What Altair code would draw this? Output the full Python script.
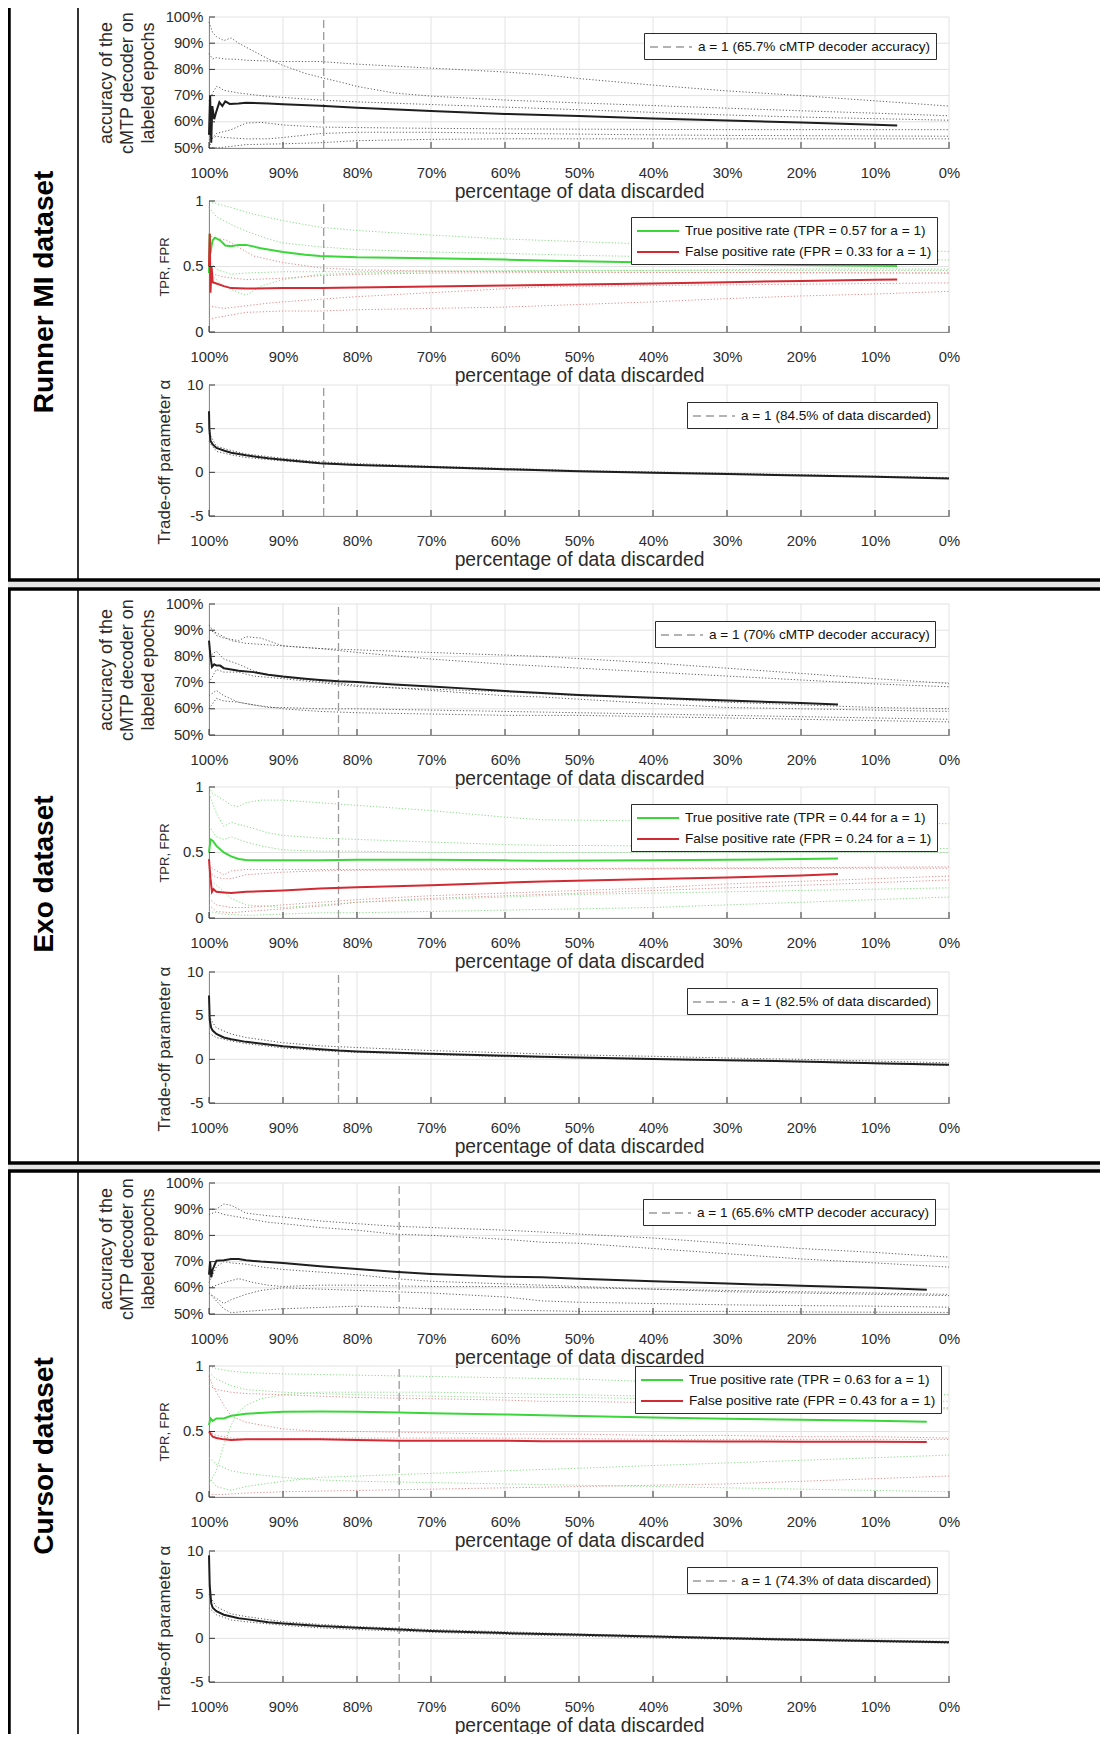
import altair as alt
import pandas as pd

# ---------------- values ----------------
X_TICKS = [0, 10, 20, 30, 40, 50, 60, 70, 80, 90, 100]
ACC_TICKS = [50, 60, 70, 80, 90, 100]
RATE_TICKS = [0, 0.5, 1]
ALPHA_TICKS = [-5, 0, 5, 10]

DATASETS = ["Runner MI dataset", "Exo dataset", "Cursor dataset"]
A1_DISCARD = [84.5, 82.5, 74.3]
A1_ACC = ["65.7%", "70%", "65.6%"]
A1_TPR = ["0.57", "0.44", "0.63"]
A1_FPR = ["0.33", "0.24", "0.43"]

# ---- Runner MI ----
R_ACC = [[100, 55], [99.85, 70], [99.7, 52], [99.55, 66], [99.3, 61], [99, 64], [98.6, 67.5], [98.2, 66],
         [97.8, 67.8], [97.2, 66.8], [96, 67], [95, 67.3], [92, 67], [90, 66.7], [85, 66.1], [80, 65.4],
         [70, 64.1], [60, 63], [50, 62.2], [40, 61.3], [30, 60.5], [20, 59.7], [10, 58.9], [7, 58.6]]
R_A1 = [[100, 98], [99.5, 94], [99, 92.5], [98, 91], [97, 92], [96, 90], [95, 88.5], [92, 84], [90, 81.5],
        [87, 78.5], [85, 77], [82, 75], [80, 73.5], [75, 71], [70, 69.8], [60, 68.3], [50, 67.2], [40, 66.2],
        [30, 65.2], [20, 64.2], [10, 63.3], [0, 62.3]]
R_A2 = [[100, 86], [99.5, 84], [99, 84.5], [98, 84], [96, 83.8], [95, 83.5], [90, 83], [85, 83], [80, 82],
        [70, 80.5], [60, 79], [55, 78], [50, 76.5], [40, 74], [30, 71.8], [20, 70], [10, 68], [0, 66]]
R_A3 = [[100, 68], [99.5, 71], [99, 73.5], [98.5, 73], [98, 72], [96, 71], [93, 70], [90, 69.3], [85, 68.3],
        [80, 67.6], [70, 66.6], [60, 65.6], [50, 64.6], [40, 63.6], [30, 62.6], [20, 61.8], [10, 61.2], [0, 60.6]]
R_A4 = [[100, 50], [99.5, 54], [99, 55.5], [97, 57], [95, 59.5], [93, 59.8], [90, 58.8], [85, 58], [80, 57.8],
        [70, 57.5], [60, 57.3], [50, 57.2], [40, 57.1], [30, 57], [20, 57], [10, 57], [0, 57]]
R_A5 = [[100, 53], [99, 54.5], [98, 54], [95, 53.5], [92, 53.5], [90, 54], [85, 55.5], [80, 56], [70, 56],
        [60, 55.6], [50, 55.3], [40, 55], [30, 54.8], [20, 54.7], [10, 54.6], [0, 54.5]]
R_A6 = [[100, 50], [98, 50.3], [95, 51.3], [90, 51.6], [85, 52], [80, 52.8], [70, 53.3], [60, 53.5],
        [50, 53.5], [40, 53.5], [30, 53.5], [20, 53.5], [10, 53.5], [0, 53.5]]
R_TPR = [[100, 0.45], [99.9, 0.75], [99.8, 0.6], [99.65, 0.66], [99.5, 0.7], [99.2, 0.72], [98.5, 0.7],
         [97.8, 0.66], [97, 0.655], [96, 0.665], [95, 0.665], [93, 0.64], [90, 0.61], [87, 0.59], [85, 0.58],
         [80, 0.57], [70, 0.563], [60, 0.553], [55, 0.545], [50, 0.54], [40, 0.53], [30, 0.52], [20, 0.512],
         [10, 0.505], [7, 0.503]]
R_FPR = [[100, 0.5], [99.9, 0.75], [99.8, 0.3], [99.65, 0.5], [99.5, 0.38], [99, 0.37], [98, 0.35], [97, 0.335],
         [95, 0.332], [90, 0.335], [85, 0.336], [80, 0.34], [70, 0.347], [60, 0.355], [55, 0.358], [50, 0.362],
         [40, 0.37], [30, 0.38], [20, 0.39], [10, 0.398], [7, 0.4]]
R_G1 = [[100, 1.0], [99, 0.98], [97, 0.95], [94, 0.9], [90, 0.85], [85, 0.8], [80, 0.775], [70, 0.74],
        [60, 0.71], [50, 0.69], [40, 0.67], [30, 0.65], [20, 0.635], [10, 0.625], [0, 0.615]]
R_G2 = [[100, 0.95], [99, 0.88], [97, 0.82], [95, 0.77], [92, 0.71], [90, 0.68], [85, 0.65], [80, 0.63],
        [70, 0.61], [60, 0.6], [50, 0.585], [40, 0.575], [30, 0.565], [20, 0.56], [10, 0.555], [0, 0.55]]
R_G3 = [[100, 0.45], [99, 0.4], [98, 0.35], [96, 0.3], [95, 0.28], [93, 0.35], [90, 0.4], [85, 0.44],
        [80, 0.45], [70, 0.46], [60, 0.465], [50, 0.47], [40, 0.47], [30, 0.475], [20, 0.48], [10, 0.48], [0, 0.48]]
R_G4 = [[100, 0.55], [99, 0.48], [97, 0.44], [95, 0.45], [90, 0.46], [80, 0.46], [70, 0.465], [50, 0.47],
        [30, 0.47], [0, 0.47]]
R_R1 = [[100, 0.75], [99.5, 0.72], [97.6, 0.7], [94, 0.58], [90, 0.53], [85, 0.49], [80, 0.475], [70, 0.465],
        [55, 0.46], [40, 0.455], [20, 0.452], [0, 0.45]]
R_R2 = [[100, 0.45], [98, 0.42], [95, 0.4], [90, 0.41], [85, 0.43], [80, 0.44], [70, 0.45], [50, 0.455],
        [30, 0.455], [0, 0.45]]
R_R3 = [[100, 0.2], [98, 0.18], [95, 0.2], [92, 0.22], [90, 0.23], [85, 0.25], [80, 0.27], [70, 0.3],
        [60, 0.33], [55, 0.345], [40, 0.355], [20, 0.365], [0, 0.375]]
R_R4 = [[100, 0.1], [98, 0.12], [95, 0.15], [90, 0.16], [85, 0.16], [80, 0.17], [70, 0.18], [60, 0.19],
        [55, 0.2], [40, 0.23], [30, 0.255], [20, 0.275], [10, 0.29], [0, 0.31]]
R_ALPHA = [[100, 7], [99.95, 5], [99.8, 3.6], [99.5, 3.2], [99, 2.8], [98, 2.5], [97, 2.25], [95, 1.95],
           [92, 1.6], [90, 1.45], [85, 1.05], [80, 0.85], [70, 0.6], [60, 0.35], [50, 0.12], [40, -0.05],
           [30, -0.2], [20, -0.35], [10, -0.5], [0, -0.7]]
R_AD1 = [[100, 3.5], [99, 2.4], [97, 2.0], [95, 1.7], [90, 1.3], [85, 1.0], [80, 0.8], [70, 0.55], [60, 0.3],
         [50, 0.1], [30, -0.2], [0, -0.65]]
R_AD2 = [[100, 4.5], [99, 3.0], [97, 2.5], [95, 2.1], [90, 1.6], [85, 1.2], [80, 1.0], [70, 0.7], [60, 0.45],
         [50, 0.2], [30, -0.1], [0, -0.6]]

# ---- Exo ----
E_ACC = [[100, 86], [99.8, 80], [99.6, 76], [99.3, 77], [99, 76.5], [98.5, 76.5], [98, 75.5], [97, 75],
         [96, 74.5], [94, 74], [92, 73], [90, 72.3], [87, 71.5], [85, 71], [82.5, 70.5], [80, 70.2], [75, 69.3],
         [70, 68.5], [65, 67.7], [60, 66.8], [55, 66], [50, 65.3], [40, 64.2], [30, 63.2], [20, 62.2], [15, 61.6]]
E_A1 = [[100, 92], [99, 88], [98, 87], [96, 86], [95, 87.5], [93, 87], [90, 84], [85, 83], [80, 82.5],
        [70, 81.5], [60, 80.5], [55, 80], [40, 77.5], [30, 75.5], [20, 73.5], [10, 71.5], [0, 69.7]]
E_A2 = [[100, 90], [99, 89], [97, 86], [95, 85], [90, 84], [85, 83], [80, 81.5], [70, 79], [60, 77],
        [55, 76.3], [40, 74], [30, 72.5], [20, 71], [10, 69.5], [0, 68.4]]
E_A3 = [[100, 80], [99, 82], [98, 79], [96, 77], [94, 74.5], [92, 73], [90, 72], [85, 70.5], [80, 69],
        [70, 67], [60, 65], [55, 64.5], [40, 62], [30, 60.5], [20, 60], [10, 59.5], [0, 59]]
E_A4 = [[100, 65], [99, 67], [98, 65], [96, 62.5], [94, 61.5], [92, 60.5], [90, 60.5], [85, 60], [80, 60],
        [70, 59.5], [60, 59], [50, 58.5], [40, 58], [30, 57.5], [20, 57], [10, 56.5], [0, 56]]
E_A5 = [[100, 60], [99, 64], [98, 63], [96, 62.5], [94, 61.5], [90, 60], [85, 59], [80, 58.5], [70, 58],
        [60, 57.5], [50, 57.5], [40, 57], [30, 56.5], [20, 56], [10, 55.5], [0, 55]]
E_A6 = [[100, 70], [99, 75], [98, 74], [96, 74], [94, 72.5], [92, 72], [90, 71.5], [85, 70], [80, 68.5],
        [70, 67.5], [60, 66.5], [50, 65], [40, 64], [30, 62.5], [20, 61.5], [10, 60.5], [0, 60]]
E_TPR = [[100, 0.5], [99.8, 0.6], [99.5, 0.59], [99, 0.55], [98, 0.5], [97, 0.47], [96, 0.45], [95, 0.442],
         [90, 0.44], [85, 0.44], [80, 0.445], [70, 0.445], [60, 0.44], [55, 0.437], [40, 0.44], [30, 0.445],
         [20, 0.45], [15, 0.455]]
E_FPR = [[100, 0.45], [99.8, 0.3], [99.6, 0.2], [99.4, 0.22], [99, 0.2], [98, 0.195], [97, 0.19], [95, 0.2],
         [90, 0.21], [85, 0.225], [80, 0.235], [70, 0.25], [60, 0.27], [55, 0.278], [40, 0.298], [30, 0.31],
         [20, 0.325], [15, 0.335]]
E_G1 = [[100, 1.0], [99.5, 0.95], [98, 0.9], [97, 0.86], [96, 0.85], [95, 0.88], [93, 0.9], [90, 0.9],
        [85, 0.88], [80, 0.86], [70, 0.82], [60, 0.77], [55, 0.75], [40, 0.74], [20, 0.73], [0, 0.72]]
E_G2 = [[100, 0.95], [99, 0.8], [98, 0.7], [97, 0.73], [95, 0.7], [92, 0.65], [90, 0.63], [85, 0.61],
        [80, 0.6], [70, 0.58], [60, 0.56], [55, 0.555], [40, 0.55], [30, 0.55], [20, 0.54], [10, 0.54], [0, 0.53]]
E_G3 = [[100, 0.7], [99, 0.62], [98, 0.6], [97, 0.62], [95, 0.58], [93, 0.55], [90, 0.52], [85, 0.51],
        [80, 0.51], [70, 0.5], [60, 0.5], [40, 0.5], [20, 0.5], [0, 0.5]]
E_G4 = [[100, 0.05], [98, 0.03], [95, 0.02], [90, 0.03], [85, 0.04], [80, 0.04], [70, 0.05], [60, 0.06],
        [50, 0.07], [40, 0.08], [30, 0.1], [20, 0.12], [10, 0.14], [0, 0.16]]
E_G5 = [[100, 0.3], [99, 0.25], [97, 0.15], [95, 0.1], [90, 0.08], [85, 0.1], [80, 0.12], [70, 0.14],
        [60, 0.16], [50, 0.18], [40, 0.19], [30, 0.2], [20, 0.21], [10, 0.22], [0, 0.23]]
E_R1 = [[100, 0.4], [99, 0.36], [98, 0.33], [97, 0.36], [95, 0.37], [90, 0.37], [80, 0.37], [70, 0.375],
        [60, 0.375], [40, 0.38], [20, 0.385], [0, 0.39]]
E_R2 = [[100, 0.35], [99, 0.31], [98, 0.3], [97, 0.3], [95, 0.33], [90, 0.35], [85, 0.36], [80, 0.365],
        [60, 0.37], [40, 0.375], [20, 0.38], [0, 0.38]]
E_R3 = [[100, 0.1], [99, 0.05], [97, 0.04], [95, 0.05], [90, 0.07], [85, 0.09], [80, 0.12], [70, 0.15],
        [60, 0.17], [50, 0.19], [40, 0.21], [30, 0.23], [20, 0.25], [10, 0.27], [0, 0.29]]
E_R4 = [[100, 0.15], [99, 0.1], [97, 0.08], [95, 0.08], [90, 0.1], [85, 0.12], [80, 0.14], [70, 0.17],
        [60, 0.19], [50, 0.21], [40, 0.23], [30, 0.26], [20, 0.28], [10, 0.3], [0, 0.32]]
E_ALPHA = [[100, 7.3], [99.9, 4.5], [99.7, 3.6], [99.5, 3.3], [99, 2.9], [98, 2.5], [97, 2.3], [95, 2.0],
           [92, 1.7], [90, 1.5], [85, 1.15], [82.5, 1.0], [80, 0.9], [70, 0.65], [60, 0.42], [55, 0.3],
           [50, 0.22], [40, 0.05], [30, -0.1], [20, -0.25], [10, -0.45], [0, -0.63]]
E_AD1 = [[100, 5], [99.5, 4.2], [99, 3.6], [97, 2.9], [95, 2.5], [90, 1.9], [85, 1.55], [80, 1.35], [70, 1.0],
         [60, 0.75], [50, 0.5], [40, 0.35], [30, 0.15], [20, 0.0], [10, -0.2], [0, -0.4]]
E_AD2 = [[100, 3], [99, 2.5], [97, 2.1], [95, 1.8], [90, 1.3], [85, 1.0], [80, 0.8], [70, 0.55], [60, 0.3],
         [50, 0.15], [40, 0.0], [30, -0.15], [20, -0.3], [10, -0.5], [0, -0.7]]

# ---- Cursor ----
C_ACC = [[100, 65], [99.85, 70], [99.7, 64], [99.5, 67], [99.2, 69], [99, 70.3], [98, 70.5], [97, 71],
         [96, 71], [95, 70.5], [93, 70], [90, 69.5], [85, 68.2], [80, 67.2], [75, 66.1], [70, 65.3], [60, 64.2],
         [55, 64], [50, 63.5], [40, 62.5], [30, 61.6], [20, 60.8], [10, 60], [3, 59.3]]
C_A1 = [[100, 90], [99, 90], [98, 92], [97, 91.5], [96, 90], [95, 88.5], [92, 87.5], [90, 87], [85, 85.5],
        [80, 84.5], [75, 83.5], [70, 83], [60, 82], [55, 81.3], [50, 80.5], [40, 79], [30, 77], [20, 75],
        [10, 73.5], [0, 71.7]]
C_A2 = [[100, 88], [99, 89], [98, 88], [96, 87], [95, 86.5], [92, 85], [90, 84.5], [85, 83], [80, 82],
        [75, 80.5], [70, 80], [60, 78.5], [55, 77.4], [50, 77], [40, 75], [30, 73], [20, 71], [10, 69.5], [0, 67.9]]
C_A3 = [[100, 62], [99, 68], [98, 70], [97, 69.5], [95, 69], [93, 68], [90, 67], [85, 66], [80, 65],
        [75, 63.5], [70, 62.5], [60, 61.5], [55, 61], [50, 60.5], [40, 59.5], [30, 58.5], [20, 58], [10, 57.5],
        [0, 57]]
C_A4 = [[100, 60], [98, 62], [96, 63.5], [94, 62], [92, 61], [90, 60.5], [85, 61], [80, 61], [70, 60.5],
        [60, 60.5], [50, 60], [40, 59.5], [30, 59], [20, 58.5], [10, 58], [0, 57.5]]
C_A5 = [[100, 58], [99, 56], [98, 54], [97, 55.5], [95, 57.5], [93, 59], [90, 60], [85, 59.5], [80, 59],
        [70, 58], [60, 56.5], [55, 55], [50, 54.5], [40, 54], [30, 53.5], [20, 53.2], [10, 53], [0, 52.6]]
C_A6 = [[100, 58], [99, 55], [98, 52], [97, 50.5], [95, 51], [90, 52], [85, 52.5], [80, 53], [70, 52],
        [60, 51.5], [50, 51], [40, 51], [30, 51], [20, 50.8], [10, 50.7], [0, 50.6]]
C_TPR = [[100, 0.55], [99.8, 0.6], [99.5, 0.58], [99, 0.6], [98, 0.6], [97, 0.62], [95, 0.635], [92, 0.645],
         [90, 0.65], [85, 0.652], [80, 0.65], [74.3, 0.645], [70, 0.64], [60, 0.63], [55, 0.624], [50, 0.618],
         [40, 0.607], [30, 0.597], [20, 0.59], [10, 0.582], [3, 0.574]]
C_FPR = [[100, 0.5], [99.5, 0.46], [99, 0.45], [98, 0.44], [97, 0.435], [95, 0.44], [90, 0.44], [85, 0.44],
         [80, 0.435], [74.3, 0.43], [70, 0.43], [60, 0.43], [55, 0.426], [40, 0.425], [30, 0.424], [20, 0.422],
         [10, 0.421], [3, 0.42]]
C_G1 = [[100, 1.0], [99, 0.98], [97, 0.96], [95, 0.95], [90, 0.94], [80, 0.93], [70, 0.92], [60, 0.91],
        [50, 0.9], [40, 0.88], [30, 0.86], [20, 0.84], [10, 0.8], [0, 0.78]]
C_G2 = [[100, 0.1], [99, 0.2], [98, 0.4], [97, 0.55], [96, 0.65], [95, 0.7], [93, 0.75], [90, 0.78], [85, 0.8],
        [80, 0.8], [70, 0.8], [60, 0.79], [50, 0.78], [40, 0.77], [30, 0.76], [20, 0.75], [10, 0.74], [0, 0.73]]
C_G3 = [[100, 0.95], [99, 0.9], [97, 0.85], [95, 0.82], [90, 0.8], [85, 0.79], [80, 0.78], [70, 0.77],
        [60, 0.76], [50, 0.76], [40, 0.75], [30, 0.74], [20, 0.72], [10, 0.7], [0, 0.67]]
C_G4 = [[100, 0.15], [99, 0.08], [97, 0.05], [95, 0.08], [90, 0.12], [85, 0.15], [80, 0.16], [70, 0.18],
        [60, 0.2], [50, 0.22], [40, 0.24], [30, 0.26], [20, 0.28], [10, 0.3], [0, 0.32]]
C_G5 = [[100, 0.3], [99, 0.25], [97, 0.2], [95, 0.18], [90, 0.15], [85, 0.13], [80, 0.12], [70, 0.11],
        [60, 0.1], [50, 0.09], [40, 0.08], [30, 0.07], [20, 0.06], [10, 0.05], [0, 0.04]]
C_R1 = [[100, 0.92], [99.5, 0.85], [99, 0.8], [98, 0.7], [97, 0.62], [95, 0.57], [92, 0.54], [90, 0.52],
        [85, 0.5], [80, 0.5], [70, 0.49], [60, 0.48], [50, 0.48], [40, 0.47], [30, 0.47], [20, 0.46],
        [10, 0.46], [0, 0.45]]
C_R2 = [[100, 0.85], [99, 0.82], [97, 0.8], [95, 0.79], [90, 0.78], [85, 0.77], [80, 0.76], [70, 0.75],
        [60, 0.74], [55, 0.73], [50, 0.73], [40, 0.72], [30, 0.71], [20, 0.7], [10, 0.69], [0, 0.68]]
C_R3 = [[100, 0.02], [98, 0.02], [95, 0.03], [90, 0.04], [80, 0.05], [70, 0.06], [60, 0.07], [50, 0.08],
        [40, 0.09], [30, 0.1], [20, 0.12], [10, 0.14], [0, 0.16]]
C_R4 = [[100, 0.5], [99, 0.47], [97, 0.45], [95, 0.44], [90, 0.445], [80, 0.45], [70, 0.45], [60, 0.45],
        [50, 0.445], [40, 0.44], [30, 0.44], [20, 0.44], [10, 0.44], [0, 0.44]]
C_ALPHA = [[100, 9.5], [99.9, 6], [99.7, 4], [99.5, 3.5], [99, 3.1], [98, 2.7], [96, 2.3], [95, 2.2],
           [92, 1.85], [90, 1.7], [85, 1.4], [80, 1.2], [74.3, 1.0], [70, 0.85], [60, 0.6], [50, 0.4],
           [40, 0.2], [30, 0.0], [20, -0.15], [10, -0.3], [0, -0.45]]
C_AD1 = [[100, 5], [99, 3.6], [97, 2.8], [95, 2.5], [90, 1.9], [85, 1.6], [80, 1.35], [70, 1.0], [60, 0.75],
         [50, 0.5], [40, 0.3], [30, 0.1], [20, -0.05], [10, -0.2], [0, -0.35]]
C_AD2 = [[100, 3.5], [99, 2.7], [97, 2.1], [95, 1.9], [90, 1.5], [85, 1.2], [80, 1.0], [70, 0.7], [60, 0.45],
         [50, 0.25], [40, 0.05], [30, -0.1], [20, -0.25], [10, -0.4], [0, -0.55]]

ACC_MEAN = [R_ACC, E_ACC, C_ACC]
ACC_DOTS = [[R_A1, R_A2, R_A3, R_A4, R_A5, R_A6], [E_A1, E_A2, E_A3, E_A4, E_A5, E_A6],
            [C_A1, C_A2, C_A3, C_A4, C_A5, C_A6]]
TPR_MEAN = [R_TPR, E_TPR, C_TPR]
FPR_MEAN = [R_FPR, E_FPR, C_FPR]
TPR_DOTS = [[R_G1, R_G2, R_G3, R_G4], [E_G1, E_G2, E_G3, E_G4, E_G5], [C_G1, C_G2, C_G3, C_G4, C_G5]]
FPR_DOTS = [[R_R1, R_R2, R_R3, R_R4], [E_R1, E_R2, E_R3, E_R4], [C_R1, C_R2, C_R3, C_R4]]
ALPHA_MEAN = [R_ALPHA, E_ALPHA, C_ALPHA]
ALPHA_DOTS = [[R_AD1, R_AD2], [E_AD1, E_AD2], [C_AD1, C_AD2]]

# ---------------- layout (page pixels) ----------------
M = 8
PAGE_W, PAGE_H = 1108, 1742
SVG_W, SVG_H = PAGE_W - 2 * M, PAGE_H - 2 * M
PLOT_L, PLOT_R = 209, 949
PLOT_W = PLOT_R - PLOT_L
PAD_L = PLOT_L - M
VIEW_W, VIEW_H = SVG_W - PAD_L, SVG_H
SUB_H = 131
PLOT_TOPS = [[17, 201, 385], [604, 787, 972], [1183, 1366, 1551]]
BOX_TOP = [5, 589, 1171]
BOX_BOT = [580, 1163, 1746]
LABEL_CY = [292, 874, 1456]
LEG_POS = [[(644, 33), (631, 217), (687, 402)],
           [(655, 621), (631, 804), (687, 988)],
           [(643, 1199), (635, 1366), (687, 1567)]]

SANS = "Liberation Sans, Arial, sans-serif"
TXT = "#2b2b2b"
AXC = "#333333"
GRID = "#e2e2e2"
GREEN = "#3ad63a"
RED = "#d22a32"
LGREEN = "#86de86"
LRED = "#e48a8a"
DGRAY = "#5e5e5e"
DASHC = "#9a9a9a"

TICK_FS = 14.8
XTITLE_FS = 19.3
LEG_FS = 13.6

YDOM = [(50, 100), (0, 1), (-5, 10)]
YTICKS = [ACC_TICKS, RATE_TICKS, ALPHA_TICKS]
YLABEL_EXPR = ["datum.value + '%'", "'' + datum.value", "'' + datum.value"]
YTITLE = [["accuracy of the", "cMTP decoder on", "labeled epochs"], "TPR, FPR", "Trade-off parameter \u03b1"]
YTITLE_SIZE = [18, 13, 17]
YTITLE_PAD = [8, 11, 13]


def lines_df(lines):
    rows = []
    for i, pts in enumerate(lines):
        for x, y in pts:
            rows.append({"x": x, "y": y, "id": i})
    return pd.DataFrame(rows)


def legend(i, k, dash=None):
    px, py = LEG_POS[i][k]
    kw = dict(orient="none", legendX=px - PLOT_L, legendY=py - M, title=None,
              symbolType="M-1,0H4.25", symbolSize=256, symbolStrokeWidth=2, labelFont=SANS,
              labelFontSize=LEG_FS, labelColor="#111111", labelLimit=500, labelOffset=31,
              strokeColor="#2b2b2b", fillColor="white", padding=5, rowPadding=5, offset=0)
    if dash:
        kw["symbolDash"] = dash
        kw["symbolStrokeWidth"] = 1.3
    return alt.Legend(**kw)


def panel(i, k):
    top = PLOT_TOPS[i][k] - M
    bot = top + SUB_H
    lo, hi = YDOM[k]
    yt = YTICKS[k]
    yextra = {}
    if k == 2:
        yextra["titleY"] = (top + bot) / 2.0 + 11

    def X():
        return alt.X("x:Q", scale=alt.Scale(domain=[100, 0], range=[0, PLOT_W], nice=False, zero=False),
                     axis=alt.Axis(orient="bottom", offset=bot - VIEW_H, values=X_TICKS,
                                   labelExpr="datum.value + '%'", title="percentage of data discarded",
                                   grid=False, ticks=False, tickSize=0, domainColor=AXC, domainWidth=1,
                                   labelFont=SANS, labelFontSize=TICK_FS, labelColor=TXT,
                                   labelBaseline="alphabetic", labelPadding=29, labelFlush=False,
                                   labelOverlap=False, titleFont=SANS, titleFontSize=XTITLE_FS,
                                   titleFontWeight="normal", titleColor=TXT, titleBaseline="alphabetic",
                                   titleY=49))

    def Y():
        return alt.Y("y:Q", scale=alt.Scale(domain=[lo, hi], range=[bot, top], nice=False, zero=False),
                     axis=alt.Axis(orient="left", values=yt, labelExpr=YLABEL_EXPR[k], title=YTITLE[k],
                                   grid=False, ticks=False, tickSize=0, domainColor=AXC, domainWidth=1,
                                   labelFont=SANS, labelFontSize=TICK_FS, labelColor=TXT, labelPadding=6,
                                   labelFlush=False, labelOverlap=False, titleFont=SANS,
                                   titleFontSize=YTITLE_SIZE[k], titleFontWeight="normal", titleColor=TXT,
                                   titlePadding=YTITLE_PAD[k], titleLineHeight=21, **yextra))

    n = len(yt)
    layers = []
    # grid
    layers.append(alt.Chart(pd.DataFrame({"x": X_TICKS, "y": [lo] * 11, "y2": [hi] * 11}))
                  .mark_rule(color=GRID, strokeWidth=1).encode(x=X(), y=Y(), y2="y2:Q"))
    layers.append(alt.Chart(pd.DataFrame({"y": yt, "x": [100] * n, "x2": [0] * n}))
                  .mark_rule(color=GRID, strokeWidth=1).encode(x=X(), x2="x2:Q", y=Y()))
    # dotted individual curves
    if k == 0:
        layers.append(alt.Chart(lines_df(ACC_DOTS[i])).mark_line(color=DGRAY, strokeWidth=1, strokeDash=[1.2, 2])
                      .encode(x=X(), y=Y(), detail="id:N"))
    elif k == 1:
        layers.append(alt.Chart(lines_df(TPR_DOTS[i])).mark_line(color=LGREEN, strokeWidth=1, strokeDash=[1.2, 2])
                      .encode(x=X(), y=Y(), detail="id:N"))
        layers.append(alt.Chart(lines_df(FPR_DOTS[i])).mark_line(color=LRED, strokeWidth=1, strokeDash=[1.2, 2])
                      .encode(x=X(), y=Y(), detail="id:N"))
    else:
        layers.append(alt.Chart(lines_df(ALPHA_DOTS[i])).mark_line(color=DGRAY, strokeWidth=1, strokeDash=[1.2, 2])
                      .encode(x=X(), y=Y(), detail="id:N"))
    # a = 1 vertical line
    a1 = A1_DISCARD[i]
    if k == 1:
        layers.append(alt.Chart(pd.DataFrame({"x": [a1], "y": [lo], "y2": [hi]}))
                      .mark_rule(color=DASHC, strokeWidth=1.3, strokeDash=[8, 4])
                      .encode(x=X(), y=Y(), y2="y2:Q"))
    else:
        lab = ("a = 1 (%s cMTP decoder accuracy)" % A1_ACC[i]) if k == 0 else \
              ("a = 1 (%s%% of data discarded)" % a1)
        layers.append(alt.Chart(pd.DataFrame({"x": [a1], "y": [lo], "y2": [hi], "lab": [lab]}))
                      .mark_rule(strokeWidth=1.3, strokeDash=[8, 4])
                      .encode(x=X(), y=Y(), y2="y2:Q",
                              color=alt.Color("lab:N", scale=alt.Scale(domain=[lab], range=[DASHC]),
                                              legend=legend(i, k, dash=[8, 5]))))
    # main curves
    if k == 0:
        layers.append(alt.Chart(pd.DataFrame(ACC_MEAN[i], columns=["x", "y"]))
                      .mark_line(color="#1e1e1e", strokeWidth=2).encode(x=X(), y=Y()))
    elif k == 1:
        l1 = "True positive rate (TPR = %s for a = 1)" % A1_TPR[i]
        l2 = "False positive rate (FPR = %s for a = 1)" % A1_FPR[i]
        d1 = pd.DataFrame(TPR_MEAN[i], columns=["x", "y"]).assign(s=l1)
        d2 = pd.DataFrame(FPR_MEAN[i], columns=["x", "y"]).assign(s=l2)
        layers.append(alt.Chart(pd.concat([d1, d2])).mark_line(strokeWidth=2)
                      .encode(x=X(), y=Y(),
                              color=alt.Color("s:N", scale=alt.Scale(domain=[l1, l2], range=[GREEN, RED]),
                                              legend=legend(i, k))))
    else:
        layers.append(alt.Chart(pd.DataFrame(ALPHA_MEAN[i], columns=["x", "y"]))
                      .mark_line(color="#1e1e1e", strokeWidth=2).encode(x=X(), y=Y()))
    # inward tick marks
    dy = (hi - lo) * 6.0 / SUB_H
    dx = 100 * 6.0 / PLOT_W
    layers.append(alt.Chart(pd.DataFrame({"x": X_TICKS, "y": [lo] * 11, "y2": [lo + dy] * 11}))
                  .mark_rule(color=AXC, strokeWidth=1).encode(x=X(), y=Y(), y2="y2:Q"))
    layers.append(alt.Chart(pd.DataFrame({"y": yt, "x": [100] * n, "x2": [100 - dx] * n}))
                  .mark_rule(color=AXC, strokeWidth=1).encode(x=X(), x2="x2:Q", y=Y()))
    return alt.layer(*layers)


one = pd.DataFrame({"k": [0]})
decor = []
for i in range(3):
    t, b = BOX_TOP[i] - M, BOX_BOT[i] - M
    if i > 0:
        decor.append(alt.Chart(one).mark_rect(color="#e6e6e6")
                     .encode(x=alt.value(-PAD_L), x2=alt.value(VIEW_W + 10),
                             y=alt.value(BOX_BOT[i - 1] - M + 2), y2=alt.value(t - 2)))
    decor.append(alt.Chart(one).mark_rect(fillOpacity=0, stroke="black", strokeWidth=3.5)
                 .encode(x=alt.value(9 - PLOT_L), x2=alt.value(VIEW_W + 20), y=alt.value(t), y2=alt.value(b)))
    decor.append(alt.Chart(one).mark_rule(color="black", strokeWidth=1.6)
                 .encode(x=alt.value(78 - PLOT_L), y=alt.value(t), y2=alt.value(b)))
    decor.append(alt.Chart(one).mark_text(text=DATASETS[i], angle=270, font=SANS, fontSize=28,
                                          fontWeight="bold", color="black", align="center", baseline="middle")
                 .encode(x=alt.value(45 - PLOT_L), y=alt.value(LABEL_CY[i] - M)))

panels = [panel(i, k) for i in range(3) for k in range(3)]

chart = (alt.layer(*decor, *panels)
         .resolve_scale(x="independent", y="independent", color="independent")
         .resolve_axis(x="independent", y="independent")
         .resolve_legend(color="independent")
         .properties(width=VIEW_W, height=VIEW_H, autosize=alt.AutoSizeParams(type="none"),
                     padding={"left": PAD_L, "top": 0, "right": 0, "bottom": 0}, background="white")
         .configure_view(stroke="transparent"))

chart.save("out.html", embed_options={"renderer": "svg", "actions": False})
